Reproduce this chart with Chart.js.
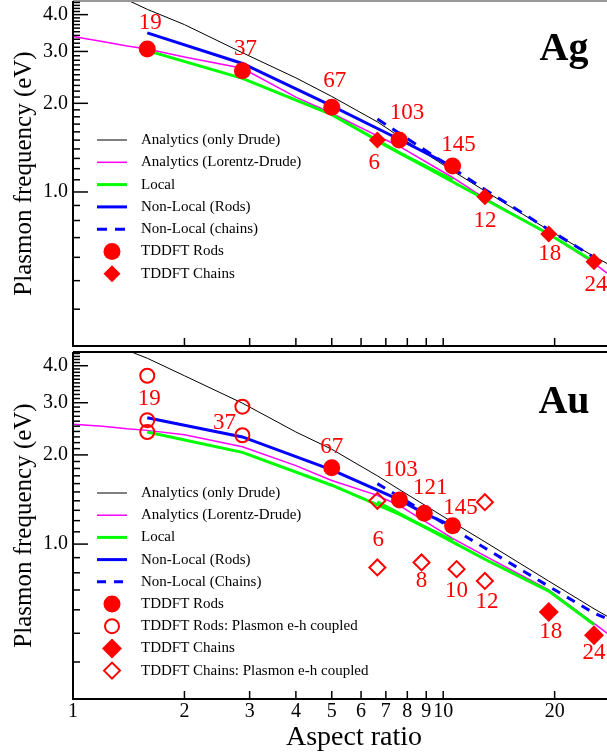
<!DOCTYPE html>
<html>
<head>
<meta charset="utf-8">
<script src="https://cdn.jsdelivr.net/npm/chart.js@4.4.0/dist/chart.umd.min.js"></script>
<style>
  body { margin: 0; background: #fff; }
  #wrap { position: relative; width: 607px; height: 755px; }
  canvas { position: absolute; left: 0; }
  #agChart { top: 0; }
  #auChart { top: 350px; }
</style>
</head>
<body>
<div id="wrap">
  <canvas id="agChart" width="607" height="350"></canvas>
  <canvas id="auChart" width="607" height="405"></canvas>
</div>
<script>
// ---------- data ----------
const xTicks = [1, 2, 3, 4, 5, 6, 7, 8, 9, 10, 20];
const yTicksMajor = [1, 2, 3, 4];

// analytic curves are sampled on this aspect ratio grid
const curveX = [1.0, 1.2, 1.4, 1.587, 2.0, 2.868, 4.0, 5.0, 6.64, 7.6, 10.6, 12.96, 19.28, 25.55, 27.7];

// Ag
const agRodX = [1.587, 2.868, 5.0, 7.6, 10.6];
const agRodLabels = ['19', '37', '67', '103', '145'];
const agRodTddft = [3.06, 2.58, 1.94, 1.50, 1.225];
const agChainX = [6.64, 12.96, 19.28, 25.55];
const agChainLabels = ['6', '12', '18', '24'];
const agChainTddft = [1.50, 0.964, 0.72, 0.58];
const agDrude = [5.46, 4.91, 4.49, 4.17, 3.70, 2.97, 2.44, 2.11, 1.73, 1.545, 1.18, 1.008, 0.742, 0.604, 0.572];
const agLorentzDrude = [3.37, 3.24, 3.13, 3.06, 2.87, 2.63, 2.10, 1.85, 1.55, 1.43, 1.12, 0.952, 0.72, 0.573, 0.53];
const agLocalRods = [3.02, 2.43, 1.83, 1.36, 1.10];
const agLocalChains = [1.49, 0.945, 0.72, 0.58];
const agNonLocalRods = [3.47, 2.73, 1.96, 1.51, 1.22];
const agNonLocalChains = [1.77, 1.02, 0.745, 0.60];

// Au
const auRodX = [1.587, 2.868, 5.0, 7.62, 8.89, 10.6];
const auRodFilledX = [5.0, 7.62, 8.89, 10.6];
const auRodLabels = ['67', '103', '121', '145'];
const auRodTddft = [1.81, 1.41, 1.27, 1.154];
const auRodCoupledX = [1.587, 1.587, 1.587, 2.868, 2.868];
const auRodCoupled = [3.70, 2.62, 2.39, 2.91, 2.33];
const auRodCoupledLabels = ['', '19', '', '', '37'];
const auChainX = [6.64, 8.74, 10.87, 12.96, 19.28, 25.55];
const auChainFilledX = [19.28, 25.55];
const auChainLabels = ['18', '24'];
const auChainTddft = [0.59, 0.492];
const auChainCoupledX = [6.64, 6.64, 8.74, 10.87, 12.96, 12.96];
const auChainCoupled = [1.40, 0.834, 0.867, 0.823, 0.751, 1.385];
const auChainCoupledLabels = ['', '6', '8', '10', '12', ''];
const auDrude = [5.4, 4.9, 4.51, 4.24, 3.70, 2.99, 2.39, 2.09, 1.70, 1.53, 1.185, 1.018, 0.75, 0.605, 0.571];
const auLorentzDrude = [2.54, 2.50, 2.45, 2.42, 2.34, 2.13, 1.84, 1.64, 1.46, 1.35, 1.045, 0.913, 0.70, 0.54, 0.50];
const auLocalRods = [2.39, 2.04, 1.58, 1.26, 1.145, 1.03];
const auLocalChains = [1.39, 1.157, 1.0, 0.889, 0.694, 0.535];
const auNonLocalRods = [2.67, 2.30, 1.78, 1.41, 1.27, 1.15];
const auNonLocalChainX = [6.64, 12.96, 19.28, 25.55, 27.7];
const auNonLocalChains = [1.60, 0.97, 0.72, 0.585, 0.56];

// ---------- helpers ----------
const SERIF = '"Liberation Serif", "Times New Roman", serif';
Chart.defaults.font.family = SERIF;
Chart.defaults.color = '#000';

const RED = '#ff0000', BLUE = '#0000ff', GREEN = '#00ff00', MAGENTA = '#ff00ff';

// minor ticks every 0.1 on the frequency axis
const yTicksAll = [];
for (let i = 4; i <= 44; i++) yTicksAll.push(i / 10);

function pts(xs, ys) {
  return xs.map((x, i) => ({ x: x, y: ys[i] }));
}

function lineSet(label, xs, ys, color, width, order, dash) {
  return {
    label: label, data: pts(xs, ys), showLine: true,
    borderColor: color, backgroundColor: color, borderWidth: width,
    borderDash: dash || [], pointRadius: 0, tension: 0, order: order
  };
}

function markSet(label, xs, ys, style, filled, radius, texts, offsets) {
  return {
    label: label, data: pts(xs, ys), showLine: false,
    pointStyle: style, pointRadius: radius,
    pointBackgroundColor: filled ? RED : 'rgba(0,0,0,0)',
    pointBorderColor: RED, pointBorderWidth: filled ? 0 : 2,
    order: 0, numLabels: texts, numOffsets: offsets
  };
}

function noPad(s) {
  s.paddingTop = 0; s.paddingBottom = 0; s.paddingLeft = 0; s.paddingRight = 0;
}

// frame, inward ticks, legend, panel name and number labels
function makePanelPlugin(cfg) {
  return {
    id: 'panel_' + cfg.name,
    afterDatasetsDraw(chart) {
      const ctx = chart.ctx;
      const a = chart.chartArea;
      const sx = chart.scales.x, sy = chart.scales.y;
      ctx.save();

      // number labels next to the TDDFT points
      ctx.font = '23px ' + SERIF;
      ctx.fillStyle = RED;
      ctx.textAlign = 'center';
      ctx.textBaseline = 'middle';
      chart.data.datasets.forEach((ds, i) => {
        if (!ds.numLabels) return;
        chart.getDatasetMeta(i).data.forEach((pt, j) => {
          const t = ds.numLabels[j];
          if (!t) return;
          const off = ds.numOffsets[j];
          ctx.fillText(t, pt.x + off[0], pt.y + off[1]);
        });
      });

      // frame
      ctx.lineWidth = 2;
      ctx.strokeStyle = cfg.topColor;
      ctx.beginPath(); ctx.moveTo(a.left, a.top); ctx.lineTo(a.right, a.top); ctx.stroke();
      ctx.strokeStyle = '#000';
      ctx.beginPath();
      ctx.moveTo(a.left, a.top); ctx.lineTo(a.left, a.bottom); ctx.lineTo(a.right, a.bottom);
      ctx.stroke();

      // ticks pointing into the plot
      ctx.lineWidth = 1.5;
      sx.ticks.forEach(t => {
        const px = sx.getPixelForValue(t.value);
        ctx.beginPath(); ctx.moveTo(px, a.bottom); ctx.lineTo(px, a.bottom - 8); ctx.stroke();
      });
      sy.ticks.forEach(t => {
        const py = sy.getPixelForValue(t.value);
        const len = yTicksMajor.includes(t.value) ? 15 : 7;
        ctx.beginPath(); ctx.moveTo(a.left, py); ctx.lineTo(a.left + len, py); ctx.stroke();
      });

      // legend
      ctx.textAlign = 'left';
      ctx.textBaseline = 'middle';
      ctx.font = '15px ' + SERIF;
      cfg.legendItems.forEach((idx, i) => {
        const ds = chart.data.datasets[idx];
        const y = cfg.legendY + i * cfg.legendStep;
        if (ds.showLine) {
          ctx.strokeStyle = ds.borderColor;
          ctx.lineWidth = ds.borderWidth;
          ctx.setLineDash(ds.borderDash);
          ctx.beginPath(); ctx.moveTo(97, y); ctx.lineTo(127, y); ctx.stroke();
          ctx.setLineDash([]);
        } else {
          ctx.fillStyle = ds.pointBackgroundColor;
          ctx.strokeStyle = ds.pointBorderColor;
          ctx.lineWidth = ds.pointBorderWidth;
          Chart.helpers.drawPoint(ctx, {
            pointStyle: ds.pointStyle, rotation: 0,
            radius: ds.pointRadius, borderWidth: ds.pointBorderWidth
          }, 112, y);
        }
        ctx.fillStyle = '#000';
        ctx.fillText(ds.label, 141, y);
      });

      // panel name
      ctx.font = 'bold 40px ' + SERIF;
      ctx.textAlign = 'center';
      ctx.textBaseline = 'alphabetic';
      ctx.fillText(cfg.name, 564, cfg.nameY);

      if (cfg.xTitle) {
        ctx.font = '28px ' + SERIF;
        ctx.fillText(cfg.xTitle, 354, cfg.xTitleY);
      }
      ctx.restore();
    }
  };
}

function makeOptions(showXLabels, xHeight, padTop) {
  return {
    responsive: false,
    animation: false,
    events: [],
    layout: { autoPadding: false, padding: { top: padTop, right: 0, bottom: 0, left: 0 } },
    plugins: { legend: { display: false }, tooltip: { enabled: false } },
    scales: {
      x: {
        type: 'logarithmic', min: 1, max: 27.7,
        grid: { display: false, drawTicks: false }, border: { display: false },
        afterBuildTicks: s => { s.ticks = xTicks.map(v => ({ value: v })); },
        afterFit: s => { s.height = xHeight; noPad(s); },
        ticks: {
          display: showXLabels, autoSkip: false, maxRotation: 0, padding: 1,
          font: { size: 20 }, callback: v => String(v)
        }
      },
      y: {
        type: 'logarithmic', min: 0.3, max: 4.45,
        grid: { display: false, drawTicks: false }, border: { display: false },
        afterBuildTicks: s => { s.ticks = yTicksAll.map(v => ({ value: v })); },
        afterFit: s => { s.width = 73; noPad(s); },
        ticks: {
          autoSkip: false, padding: 5, font: { size: 20 },
          callback: v => yTicksMajor.includes(v) ? v.toFixed(1) : ''
        },
        title: {
          display: true, text: 'Plasmon frequency (eV)',
          font: { size: 25 }, padding: { top: 9, bottom: 0 }
        }
      }
    }
  };
}

// ---------- Ag panel ----------
new Chart(document.getElementById('agChart'), {
  type: 'scatter',
  data: {
    datasets: [
      lineSet('Analytics (only Drude)', curveX, agDrude, '#000', 1, 6),
      lineSet('Analytics (Lorentz-Drude)', curveX, agLorentzDrude, MAGENTA, 1.5, 5),
      lineSet('Local', agRodX, agLocalRods, GREEN, 3, 4),
      lineSet('Non-Local (Rods)', agRodX, agNonLocalRods, BLUE, 3, 3),
      lineSet('Non-Local (chains)', agChainX, agNonLocalChains, BLUE, 3, 2, [10, 8]),
      markSet('TDDFT Rods', agRodX, agRodTddft, 'circle', true, 8.5, agRodLabels,
        [[3, -26], [3, -22], [3, -26], [8, -27], [6, -21]]),
      markSet('TDDFT Chains', agChainX, agChainTddft, 'rectRot', true, 8.5, agChainLabels,
        [[-3, 23], [0, 24], [1, 20], [2, 23]]),
      lineSet('Local (chains)', agChainX, agLocalChains, GREEN, 3, 4)
    ]
  },
  options: makeOptions(false, 4, 1),
  plugins: [makePanelPlugin({
    name: 'Ag', nameY: 60, topColor: '#999',
    legendItems: [0, 1, 2, 3, 4, 5, 6], legendY: 140, legendStep: 22.3
  })]
});

// ---------- Au panel ----------
new Chart(document.getElementById('auChart'), {
  type: 'scatter',
  data: {
    datasets: [
      lineSet('Analytics (only Drude)', curveX, auDrude, '#000', 1, 6),
      lineSet('Analytics (Lorentz-Drude)', curveX, auLorentzDrude, MAGENTA, 1.5, 5),
      lineSet('Local', auRodX, auLocalRods, GREEN, 3, 4),
      lineSet('Non-Local (Rods)', auRodX, auNonLocalRods, BLUE, 3, 3),
      lineSet('Non-Local (Chains)', auNonLocalChainX, auNonLocalChains, BLUE, 3, 2, [9, 8]),
      markSet('TDDFT Rods', auRodFilledX, auRodTddft, 'circle', true, 8.5, auRodLabels,
        [[0, -21], [1, -30], [6, -25], [8, -18]]),
      markSet('TDDFT Rods: Plasmon e-h coupled', auRodCoupledX, auRodCoupled, 'circle', false, 7,
        auRodCoupledLabels, [[0, 0], [2, -21], [0, 0], [0, 0], [-18, -12]]),
      markSet('TDDFT Chains', auChainFilledX, auChainTddft, 'rectRot', true, 10, auChainLabels,
        [[2, 20], [0, 18]]),
      markSet('TDDFT Chains: Plasmon e-h coupled', auChainCoupledX, auChainCoupled, 'rectRot', false, 8,
        auChainCoupledLabels, [[0, 0], [1, -27], [0, 19], [0, 22], [2, 21], [0, 0]]),
      lineSet('Local (chains)', auChainX, auLocalChains, GREEN, 3, 4)
    ]
  },
  options: makeOptions(true, 56, 2),
  plugins: [makePanelPlugin({
    name: 'Au', nameY: 63, topColor: '#000',
    legendItems: [0, 1, 2, 3, 4, 5, 6, 7, 8], legendY: 143, legendStep: 22.2,
    xTitle: 'Aspect ratio', xTitleY: 395
  })]
});
</script>
</body>
</html>
